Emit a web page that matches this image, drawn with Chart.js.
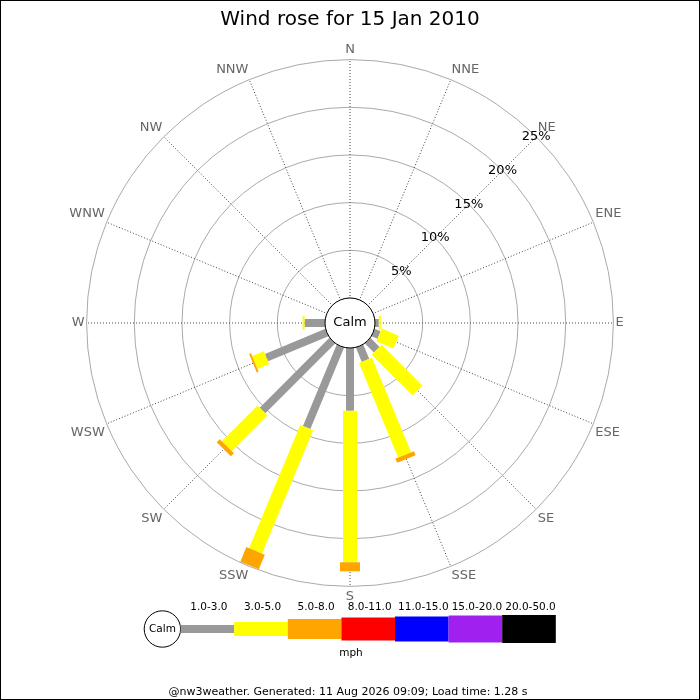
<!DOCTYPE html>
<html lang="en">
<head>
<meta charset="UTF-8">
<title>Wind rose</title>
<style>
  body { margin: 0; background: #fff; }
  canvas { display: block; }
</style>
</head>
<body>
<canvas id="rose" width="700" height="700"></canvas>
<script src="https://cdn.jsdelivr.net/npm/chart.js@4.4.0/dist/chart.umd.min.js"></script>
<script>
    // compass points, clockwise from north
    var directions = ['N', 'NNE', 'NE', 'ENE', 'E', 'ESE', 'SE', 'SSE',
                      'S', 'SSW', 'SW', 'WSW', 'W', 'WNW', 'NW', 'NNW'];
    var speedClasses = ['1.0-3.0', '3.0-5.0', '5.0-8.0', '8.0-11.0', '11.0-15.0', '15.0-20.0', '20.0-50.0'];

    // % of time per direction for each speed class (mph)
    var speed1to3   = [0, 0, 0, 0, 0.4, 0.68, 1.34, 1.62, 6.58, 9.25, 10.35, 6.86, 2.14, 0, 0, 0];
    var speed3to5   = [0, 0, 0, 0, 0.21, 1.94, 6.05, 10.74, 15.89, 14.0, 5.3, 1.33, 0.21, 0, 0, 0];
    var speed5to8   = [0, 0, 0, 0, 0, 0, 0, 0.46, 0.95, 1.65, 0.45, 0.2, 0, 0, 0, 0];
    var speed8to11  = [0, 0, 0, 0, 0, 0, 0, 0, 0, 0, 0, 0, 0, 0, 0, 0];
    var speed11to15 = [0, 0, 0, 0, 0, 0, 0, 0, 0, 0, 0, 0, 0, 0, 0, 0];
    var speed15to20 = [0, 0, 0, 0, 0, 0, 0, 0, 0, 0, 0, 0, 0, 0, 0, 0];
    var speed20to50 = [0, 0, 0, 0, 0, 0, 0, 0, 0, 0, 0, 0, 0, 0, 0, 0];

    var tickValues = [5, 10, 15, 20, 25];

    // styles
    var classColors = ['#999999', '#ffff00', '#ffa500', '#ff0000', '#0000ff', '#a020f0', '#000000'];
    var classWidths = [8, 14, 20, 23, 25, 27, 28];
    var FONT = '"DejaVu Sans", sans-serif';

    Chart.defaults.font.family = FONT;

    var seriesData = [speed1to3, speed3to5, speed5to8, speed8to11, speed11to15, speed15to20, speed20to50];
    var datasets = [];
    for (var k = 0; k < speedClasses.length; k++) {
        datasets.push({
            label: speedClasses[k],
            data: seriesData[k],
            borderWidth: 0,
            borderColor: 'rgba(0,0,0,0)',
            backgroundColor: 'rgba(0,0,0,0)',
            pointRadius: 0,
            fill: false
        });
    }

    var rosePlugin = {
        id: 'rose',
        beforeDraw: function (chart) {
            var ctx = chart.ctx;
            ctx.save();
            ctx.fillStyle = '#fff';
            ctx.fillRect(0, 0, chart.width, chart.height);
            ctx.restore();
        },
        afterDatasetsDraw: function (chart) {
            var ctx = chart.ctx;
            var r = chart.scales.r;
            ctx.save();

            // percentage labels along the NE spoke
            ctx.font = '13px ' + FONT;
            ctx.fillStyle = '#000';
            ctx.textAlign = 'center';
            ctx.textBaseline = 'middle';
            var ne = directions.indexOf('NE');
            tickValues.forEach(function (v) {
                var p = r.getPointPositionForValue(ne, v);
                ctx.fillText(v + '%', p.x, p.y);
            });

            // stacked bars, each class wider than the last
            ctx.lineCap = 'butt';
            for (var i = 0; i < directions.length; i++) {
                var base = 0;
                chart.data.datasets.forEach(function (ds, k) {
                    var v = ds.data[i];
                    if (!v) return;
                    var p0 = r.getPointPositionForValue(i, base);
                    var p1 = r.getPointPositionForValue(i, base + v);
                    ctx.beginPath();
                    ctx.lineWidth = classWidths[k];
                    ctx.strokeStyle = classColors[k];
                    ctx.moveTo(p0.x, p0.y);
                    ctx.lineTo(p1.x, p1.y);
                    ctx.stroke();
                    base += v;
                });
            }

            // calm circle in the middle
            var calmR = r.getDistanceFromCenterForValue(0);
            ctx.beginPath();
            ctx.arc(r.xCenter, r.yCenter, calmR, 0, Math.PI * 2);
            ctx.fillStyle = '#fff';
            ctx.fill();
            ctx.lineWidth = 1;
            ctx.strokeStyle = '#000';
            ctx.stroke();
            ctx.fillStyle = '#000';
            ctx.font = '13px ' + FONT;
            ctx.fillText('Calm', r.xCenter, r.yCenter);

            // legend strip
            var ly = 629, lcR = 18.2, segLen = 53.6;
            var lx = 350 - (2 * lcR + segLen * speedClasses.length) / 2;
            ctx.beginPath();
            ctx.arc(lx + lcR, ly, lcR, 0, Math.PI * 2);
            ctx.fillStyle = '#fff';
            ctx.fill();
            ctx.stroke();
            ctx.fillStyle = '#000';
            ctx.font = '10.5px ' + FONT;
            ctx.fillText('Calm', lx + lcR, ly);
            for (var k = 0; k < speedClasses.length; k++) {
                var x0 = lx + 2 * lcR + k * segLen;
                ctx.fillStyle = classColors[k];
                ctx.fillRect(x0, ly - classWidths[k] / 2, segLen, classWidths[k]);
                ctx.fillStyle = '#000';
                ctx.fillText(speedClasses[k], x0 + segLen / 2 + 1.5, 607);
            }
            ctx.fillText('mph', 351, 653);

            ctx.font = '11px ' + FONT;
            ctx.fillText('@nw3weather. Generated: 11 Aug 2026 09:09; Load time: 1.28 s', 348, 692);

            // frame
            ctx.lineWidth = 1;
            ctx.strokeStyle = '#000';
            ctx.strokeRect(0.5, 0.5, chart.width - 1, chart.height - 1);
            ctx.restore();
        }
    };

    new Chart(document.getElementById('rose'), {
        type: 'radar',
        data: {
            labels: directions,
            datasets: datasets
        },
        options: {
            responsive: false,
            animation: false,
            events: [],
            layout: { padding: { bottom: 95 } },
            plugins: {
                legend: { display: false },
                tooltip: { enabled: false },
                title: {
                    display: true,
                    text: 'Wind rose for 15 Jan 2010',
                    color: '#000',
                    font: { size: 20, weight: 'normal' },
                    padding: { top: 8, bottom: 10 }
                }
            },
            scales: {
                r: {
                    min: -2.62,
                    max: 25,
                    ticks: { display: false, stepSize: 5 },
                    grid: { circular: true, color: '#aaaaaa', lineWidth: 1 },
                    angleLines: { color: '#444444', lineWidth: 1, borderDash: [1, 2] },
                    pointLabels: { color: '#666666', font: { size: 13 }, padding: 2 }
                }
            }
        },
        plugins: [rosePlugin]
    });
</script>
</body>
</html>
